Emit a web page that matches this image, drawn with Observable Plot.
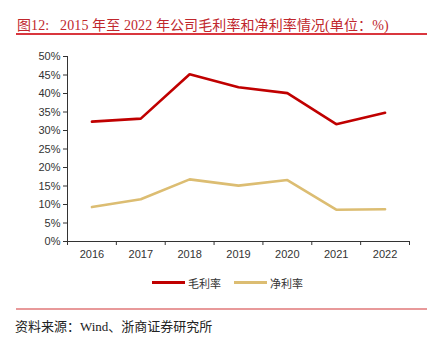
<!DOCTYPE html>
<html><head><meta charset="utf-8">
<script src="https://cdn.jsdelivr.net/npm/d3@7"></script>
<script src="https://cdn.jsdelivr.net/npm/@observablehq/plot@0.6"></script>
<style>
body{margin:0;background:#fff;}
#wrap{position:relative;width:434px;height:341px;overflow:hidden;background:#fff;}
#title{position:absolute;left:17px;top:14px;font-family:"Liberation Serif","Noto Sans CJK SC",serif;font-size:14px;color:#c0272d;white-space:nowrap;letter-spacing:0.1px;}
#tline{position:absolute;left:16px;top:33px;width:411px;height:1.5px;background:#d9363e;}
#chart{position:absolute;left:0;top:0;}
.leg{position:absolute;top:275px;font-family:"Noto Sans CJK SC",sans-serif;font-size:11px;color:#333;white-space:nowrap;}
.sw{position:absolute;height:3px;top:281px;width:33px;}
#bline{position:absolute;left:16px;top:308px;width:411px;height:1.5px;background:#e8999a;}
#src{position:absolute;left:15px;top:316px;font-family:"Liberation Serif","Noto Sans CJK SC",serif;font-size:13px;color:#222;white-space:nowrap;}
</style></head>
<body><div id="wrap">
<div id="title">图12:&nbsp;&nbsp; 2015 年至 2022 年公司毛利率和净利率情况(单位：%)</div>
<div id="tline"></div>
<div id="chart"></div>
<div class="sw" style="left:152px;background:#c00000"></div>
<div class="leg" style="left:188px">毛利率</div>
<div class="sw" style="left:234px;background:#dcbd72"></div>
<div class="leg" style="left:270px">净利率</div>
<div id="bline"></div>
<div id="src">资料来源：Wind、浙商证券研究所</div>
</div>
<script>
const years = [2016, 2017, 2018, 2019, 2020, 2021, 2022];
const grossMargin = [32.4, 33.2, 45.2, 41.7, 40.1, 31.7, 34.8];
const netMargin = [9.3, 11.4, 16.8, 15.1, 16.6, 8.6, 8.7];
const seriesNames = ["毛利率", "净利率"];
const yTicks = [0, 5, 10, 15, 20, 25, 30, 35, 40, 45, 50];
const colors = ["#c00000", "#dcbd72"];

const rows = [];
years.forEach((y, i) => {
  rows.push({year: y, value: grossMargin[i], series: seriesNames[0]});
  rows.push({year: y, value: netMargin[i], series: seriesNames[1]});
});
const bounds = [years[0] - 0.5, ...years.map(y => y + 0.5)];

const chart = Plot.plot({
  width: 434,
  height: 265,
  marginLeft: 67,
  marginRight: 25,
  marginTop: 56,
  marginBottom: 24,
  style: {fontFamily: "'Liberation Sans', Arial, sans-serif", fontSize: "11px", color: "#333", background: "transparent"},
  x: {domain: [bounds[0], bounds[bounds.length - 1]]},
  y: {domain: [0, 50]},
  color: {domain: seriesNames, range: colors},
  marks: [
    Plot.axisY({ticks: yTicks, tickFormat: d => d + "%", tickSize: 4, tickPadding: 3, label: null, stroke: "#333", fill: "#333"}),
    Plot.axisX({ticks: bounds, tickFormat: () => "", tickSize: 4, label: null, stroke: "#333"}),
    Plot.axisX({ticks: years, tickFormat: d => String(d), tickSize: 0, tickPadding: 9, label: null, fill: "#333"}),
    Plot.ruleX([bounds[0]], {stroke: "#333", strokeWidth: 1}),
    Plot.ruleY([0], {stroke: "#333", strokeWidth: 1}),
    Plot.line(rows, {x: "year", y: "value", z: "series", stroke: "series", strokeWidth: 2.6, strokeLinejoin: "miter"})
  ]
});
document.getElementById("chart").appendChild(chart);
</script>
</body></html>
